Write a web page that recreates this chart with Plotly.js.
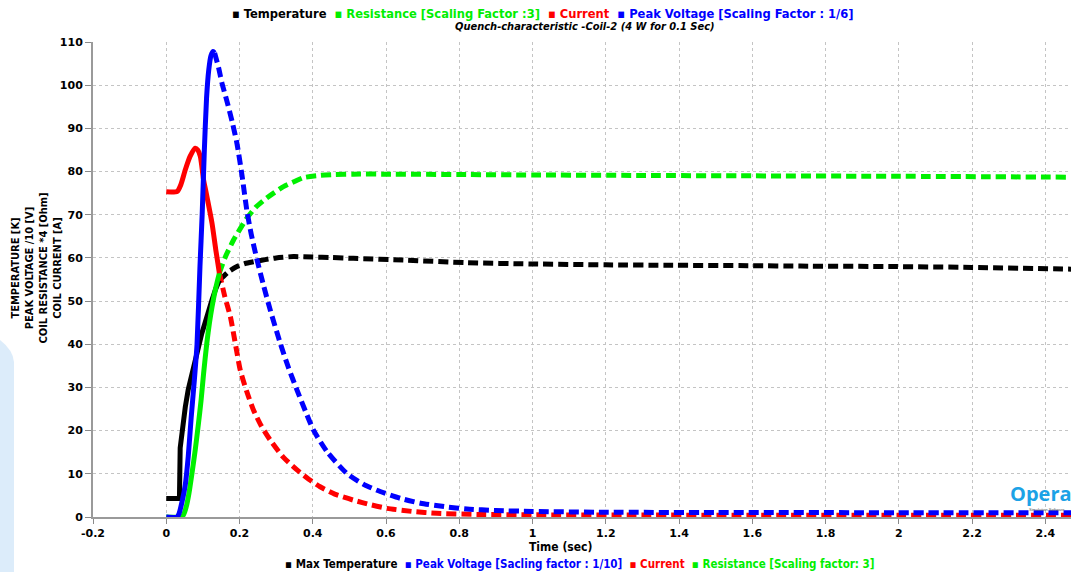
<!DOCTYPE html>
<html>
<head>
<meta charset="utf-8">
<script src="https://cdn.plot.ly/plotly-3.0.1.min.js"></script>
<style>
  html, body { margin: 0; padding: 0; background: #fff; }
  #chart { width: 1071px; height: 572px; }
</style>
</head>
<body>
<div id="chart"></div>
<script>
// Quench characteristic of coil 2: solid = early transient, dashed = continuation

// Temperature [K]
const tempT_solid = [0, 0.036, 0.038, 0.045, 0.052, 0.06, 0.07, 0.08, 0.088, 0.097, 0.106, 0.115, 0.125, 0.135, 0.145];
const tempV_solid = [4.3, 4.3, 16, 22, 25.5, 29.5, 33.3, 37, 39.4, 42.5, 45, 47.8, 50.3, 52.8, 54.8];
const tempT_dash = [0.145, 0.17, 0.193, 0.215, 0.238, 0.27, 0.3, 0.347, 0.4, 0.45, 0.511, 0.648, 0.821, 0.994, 1.2, 1.367, 1.6, 1.731, 1.985, 2.2, 2.47];
const tempV_dash = [54.8, 56.8, 58, 58.7, 59.1, 59.6, 60, 60.3, 60.2, 60.1, 59.9, 59.5, 58.9, 58.6, 58.4, 58.3, 58.2, 58.1, 58.0, 57.8, 57.4];

// Resistance (x3)
const resT_solid = [0, 0.04, 0.047, 0.055, 0.062, 0.07, 0.079, 0.088, 0.095, 0.102, 0.111, 0.118, 0.125, 0.135, 0.145];
const resV_solid = [0, 0, 0.5, 2.5, 5.5, 10, 15.5, 21.7, 27, 33.3, 40.5, 45, 48.7, 53, 56.5];
const resT_dash = [0.145, 0.16, 0.184, 0.2, 0.22, 0.245, 0.27, 0.293, 0.32, 0.35, 0.375, 0.42, 0.46, 0.511, 0.6, 0.82, 1.0, 1.3, 1.6, 2.0, 2.47];
const resV_dash = [56.5, 60, 64.2, 66.5, 69.2, 71.8, 73.6, 75, 76.5, 77.7, 78.6, 79.1, 79.3, 79.4, 79.4, 79.3, 79.2, 79.1, 79.0, 78.9, 78.7];

// Current [A]
const curT_solid = [0, 0.03, 0.04, 0.052, 0.065, 0.079, 0.086, 0.093, 0.102, 0.108, 0.125, 0.135, 0.145];
const curV_solid = [75.3, 75.4, 77, 80.4, 83.5, 85.4, 85.0, 83.5, 78, 75.5, 68, 62, 56.5];
const curT_dash = [0.145, 0.16, 0.175, 0.19, 0.202, 0.22, 0.238, 0.26, 0.284, 0.32, 0.357, 0.39, 0.42, 0.46, 0.511, 0.56, 0.603, 0.67, 0.739, 0.85, 1.0, 1.3, 1.6, 2.0, 2.47];
const curV_dash = [56.5, 51, 46.4, 39.5, 34, 29, 24.8, 21, 17.8, 13.8, 10.9, 8.7, 7, 5.3, 3.9, 2.8, 2.0, 1.3, 0.85, 0.6, 0.5, 0.45, 0.4, 0.4, 0.4];

// Peak voltage (/10)
const voltT_solid = [0, 0.03, 0.035, 0.043, 0.052, 0.06, 0.068, 0.076, 0.084, 0.092, 0.098, 0.104, 0.11, 0.116, 0.122, 0.128, 0.132];
const voltV_solid = [0, 0, 0.8, 3.5, 7.5, 14, 23, 31, 40, 58, 70, 85, 97, 103.5, 106.8, 107.8, 107.5];
const voltT_dash = [0.132, 0.143, 0.152, 0.165, 0.18, 0.193, 0.207, 0.22, 0.232, 0.248, 0.266, 0.284, 0.311, 0.334, 0.357, 0.38, 0.402, 0.44, 0.493, 0.54, 0.584, 0.64, 0.694, 0.76, 0.821, 0.9, 1.0, 1.2, 1.5, 2.0, 2.47];
const voltV_dash = [107.5, 104, 100.5, 96.5, 91.5, 86.5, 79, 71, 65.5, 59.5, 53.5, 47.9, 40.3, 34.5, 29.4, 24.5, 20.1, 15, 10.1, 7.5, 5.9, 4.3, 3.2, 2.4, 1.85, 1.5, 1.3, 1.1, 1.05, 1.0, 1.0];

const xTicks = [-0.2, 0, 0.2, 0.4, 0.6, 0.8, 1, 1.2, 1.4, 1.6, 1.8, 2, 2.2, 2.4];
const xTickText = ['-0.2', '0', '0.2', '0.4', '0.6', '0.8', '1', '1.2', '1.4', '1.6', '1.8', '2', '2.2', '2.4'];
const yTicks = [0, 10, 20, 30, 40, 50, 60, 70, 80, 90, 100, 110];
const yTickText = ['0', '10', '20', '30', '40', '50', '60', '70', '80', '90', '100', '110'];

const topLegend = [
  ['#000000', 'Temperature'],
  ['#00ee00', 'Resistance [Scaling Factor :3]'],
  ['#ff0000', 'Current'],
  ['#0000ff', 'Peak Voltage [Scaling Factor : 1/6]']
];
const bottomLegend = [
  ['#000000', 'Max Temperature'],
  ['#0000ff', 'Peak Voltage [Sacling factor : 1/10]'],
  ['#ff0000', 'Current'],
  ['#00ee00', 'Resistance [Scaling factor: 3]']
];

const COL = { temp: '#000000', res: '#00f000', cur: '#ff0000', volt: '#0000ff' };
const LW = 5;
const DASH = '10px,5px';

function seg(x, y, color, dashed) {
  return {
    x: x, y: y, type: 'scatter', mode: 'lines', showlegend: false, hoverinfo: 'skip',
    line: { color: color, width: LW, dash: dashed ? DASH : 'solid', shape: 'spline', smoothing: 0.6 }
  };
}

const data = [
  seg(tempT_dash, tempV_dash, COL.temp, true),
  seg(resT_dash, resV_dash, COL.res, true),
  seg(curT_dash, curV_dash, COL.cur, true),
  seg(voltT_dash, voltV_dash, COL.volt, true),
  seg(tempT_solid, tempV_solid, COL.temp, false),
  seg(resT_solid, resV_solid, COL.res, false),
  seg(curT_solid, curV_solid, COL.cur, false),
  seg(voltT_solid, voltV_solid, COL.volt, false)
];
// the temperature step is a hard corner, keep it linear
data[4].line.shape = 'linear';

const NARROW = '"Liberation Sans Narrow", "DejaVu Sans Condensed", sans-serif';
const TICKF = 'Verdana, "DejaVu Sans", sans-serif';
const bold = s => '<b>' + s + '</b>';

function legendText(items) {
  return items.map(([c, t]) =>
    '<span style="color:' + c + '">\u25AA</span> <span style="color:' + c + '">' + t + '</span>'
  ).join('  ');
}

// pixel helpers for paper-positioned decorations
const PL = 93, PW = 978, PB = 517, PH = 475;
const px = v => (v - PL) / PW;
const py = v => (PB - v) / PH;

const layout = {
  width: 1071, height: 572,
  margin: { l: PL, r: 0, t: 42, b: 55 },
  paper_bgcolor: '#ffffff', plot_bgcolor: '#ffffff',
  showlegend: false,
  hovermode: false,
  xaxis: {
    range: [-0.2, 2.47], tickmode: 'array', tickvals: xTicks, ticktext: xTickText.map(bold),
    showgrid: true, gridcolor: '#c4c4c4', griddash: 'dot', gridwidth: 1,
    zeroline: false, showline: true, linecolor: '#9a9a9a', linewidth: 2,
    ticks: 'outside', ticklen: 5, tickcolor: '#8a8a8a',
    tickfont: { family: TICKF, size: 11, color: '#000000' }
  },
  yaxis: {
    range: [0, 110], tickmode: 'array', tickvals: yTicks, ticktext: yTickText.map(bold),
    showgrid: true, gridcolor: '#c4c4c4', griddash: 'dot', gridwidth: 1,
    zeroline: false, showline: true, linecolor: '#9a9a9a', linewidth: 2,
    ticks: 'outside', ticklen: 6, tickcolor: '#8a8a8a',
    tickfont: { family: TICKF, size: 11, color: '#000000' }
  },
  shapes: [
    {
      type: 'path', xref: 'paper', yref: 'paper', layer: 'below',
      path: 'M ' + px(0) + ' ' + py(572) + ' L ' + px(0) + ' ' + py(340) +
            ' Q ' + px(13) + ' ' + py(350) + ' ' + px(14) + ' ' + py(362) +
            ' L ' + px(14) + ' ' + py(572) + ' Z',
      fillcolor: '#dcecfa', line: { width: 0 }
    }
  ],
  annotations: [
    {
      xref: 'paper', yref: 'paper', x: px(543), y: py(14), xanchor: 'center', yanchor: 'middle',
      showarrow: false, text: bold(legendText(topLegend)),
      font: { family: NARROW, size: 12.8 }
    },
    {
      xref: 'paper', yref: 'paper', x: px(585), y: py(26), xanchor: 'center', yanchor: 'middle',
      showarrow: false, text: '<b><i>Quench-characteristic -Coil-2 (4 W for 0.1 Sec)</i></b>',
      font: { family: NARROW, size: 11, color: '#000' }
    },
    {
      xref: 'paper', yref: 'paper', x: px(36.5), y: py(268), xanchor: 'center', yanchor: 'middle',
      showarrow: false, textangle: -90,
      text: bold('TEMPERATURE [K]<br>PEAK VOLTAGE /10 [V]<br>COIL RESISTANCE *4 [Ohm]<br>COIL CURRENT [A]'),
      font: { family: NARROW, size: 11, color: '#000' }
    },
    {
      xref: 'paper', yref: 'paper', x: px(560), y: py(547), xanchor: 'center', yanchor: 'middle',
      showarrow: false, text: bold('Time (sec)'),
      font: { family: NARROW, size: 12, color: '#000' }
    },
    {
      xref: 'paper', yref: 'paper', x: px(580), y: py(564), xanchor: 'center', yanchor: 'middle',
      showarrow: false, text: bold(legendText(bottomLegend)),
      font: { family: NARROW, size: 11.5 }
    },
    {
      xref: 'paper', yref: 'paper', x: px(1041), y: py(493), xanchor: 'center', yanchor: 'middle',
      showarrow: false, text: bold('Opera'),
      font: { family: '"Open Sans", sans-serif', size: 20, color: '#1ca2e6' }
    },
    {
      xref: 'paper', yref: 'paper', x: px(1047), y: py(509), xanchor: 'center', yanchor: 'middle',
      showarrow: false, text: 'Simulation Software',
      font: { family: '"Liberation Sans", sans-serif', size: 4, color: '#555' }
    }
  ]
};

Plotly.newPlot('chart', data, layout, { displayModeBar: false, staticPlot: true });
</script>
</body>
</html>
